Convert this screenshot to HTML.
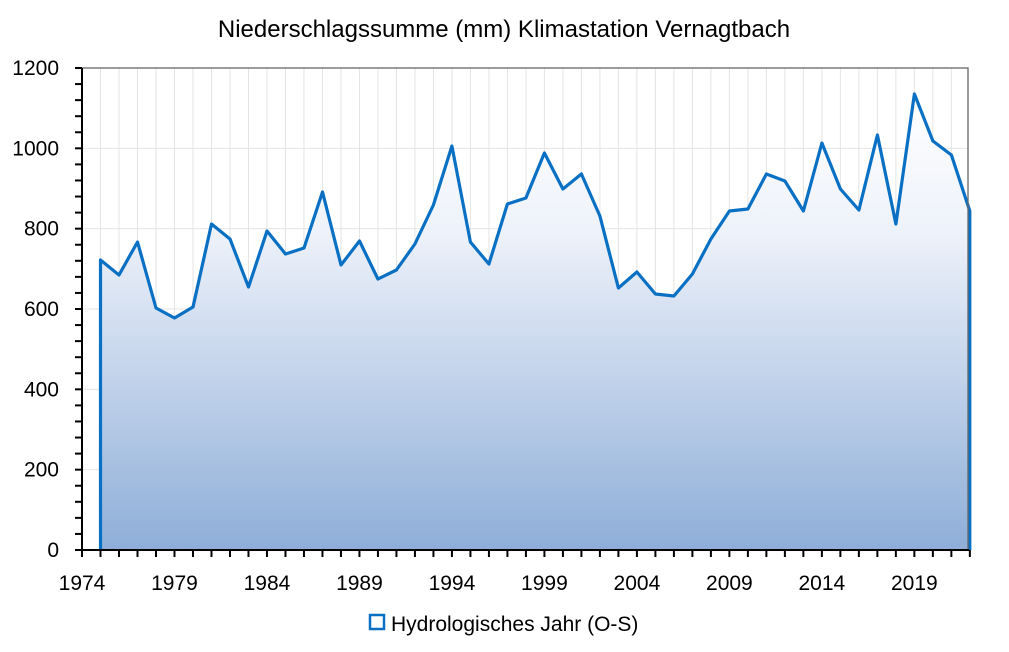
<!DOCTYPE html>
<html><head><meta charset="utf-8"><style>
html,body{margin:0;padding:0;background:#fff;width:1009px;height:652px;overflow:hidden}
text{font-family:"Liberation Sans",sans-serif;fill:#000}
</style></head><body>
<svg id="s" width="1009" height="652" xmlns="http://www.w3.org/2000/svg">
<defs><linearGradient id="g" x1="0" y1="0" x2="0" y2="1">
<stop offset="0" stop-color="#ffffff"/><stop offset="0.3" stop-color="#eef2fa"/><stop offset="1" stop-color="#8eaed8"/></linearGradient></defs>
<g id="grid"></g>
<path id="area" fill="url(#g)"/>
<path id="line" fill="none" stroke="#0a70c4" stroke-width="3.2" stroke-linejoin="round"/>
<rect x="82" y="68" width="886" height="482" fill="none" stroke="#666" stroke-width="1.3"/>
<g id="ax" stroke="#000" stroke-width="2"></g>
<g id="lab" font-size="21"></g>
<text x="504" y="37" text-anchor="middle" font-size="24">Niederschlagssumme (mm) Klimastation Vernagtbach</text>
<rect x="370" y="615" width="14" height="14" fill="#fff" stroke="#0a70c4" stroke-width="2.5"/>
<text x="391" y="631" font-size="21">Hydrologisches Jahr (O-S)</text>
</svg>
<script>
var ys=[260,275,242,308,318,307,224,239,287,231,254,248,192,265,241,279,270,244,205,146,242,264,204,198,153,189,174,216,288,272,294,296,274,239,211,209,174,181,211,143,189,210,135,224,94,141,155,211];
var x0=82,dx=(968-82)/47.9,ns="http://www.w3.org/2000/svg";
function X(y){return x0+(y-1974)*dx}
var grid=document.getElementById('grid'),ax=document.getElementById('ax'),lab=document.getElementById('lab');
function el(p,t,a,txt){var e=document.createElementNS(ns,t);for(var k in a)e.setAttribute(k,a[k]);if(txt)e.textContent=txt;p.appendChild(e);return e}
for(var y=1975;y<=2021;y++){var x=X(y);el(grid,'line',{x1:x,x2:x,y1:68,y2:550,stroke:'#e4e4e4','stroke-width':1})}
for(var v=200;v<1200;v+=200){var yy=550-v*482/1200;el(grid,'line',{x1:82,x2:968,y1:yy,y2:yy,stroke:'#e4e4e4','stroke-width':1})}
var pts=ys.map(function(p,i){return X(1975+i).toFixed(1)+','+p});
var first=X(1975).toFixed(1),last=X(2022).toFixed(1);
document.getElementById('line').setAttribute('d','M'+first+',550 L'+pts.join(' L')+' L'+last+',550');
document.getElementById('area').setAttribute('d','M'+first+',550 L'+pts.join(' L')+' L'+last+',550 Z');
el(ax,'line',{x1:82,x2:82,y1:68,y2:551});
el(ax,'line',{x1:81,x2:969,y1:550,y2:550});
for(var v=0;v<=1200;v+=40){var yy=550-v*482/1200;el(ax,'line',{x1:75,x2:82,y1:yy,y2:yy})}
for(var y=1974;y<=2022;y++){var x=X(y);el(ax,'line',{x1:x,x2:x,y1:550,y2:557})}
for(var v=0;v<=1200;v+=200){el(lab,'text',{x:59,y:550-v*482/1200+7,'text-anchor':'end'},String(v))}
for(var y=1974;y<=2019;y+=5){el(lab,'text',{x:X(y),y:590,'text-anchor':'middle'},String(y))}
</script>
</body></html>
